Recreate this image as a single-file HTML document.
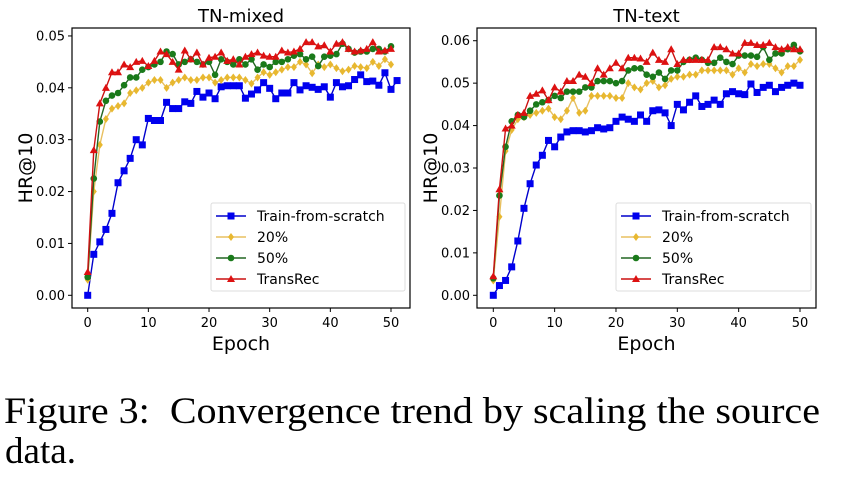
<!DOCTYPE html>
<html><head><meta charset="utf-8"><style>
html,body{margin:0;padding:0;background:#fff;width:844px;height:502px;overflow:hidden}
svg{display:block}
</style></head><body>
<svg id="fig" width="844" height="502" viewBox="0 0 844 502" xmlns="http://www.w3.org/2000/svg" font-family="'DejaVu Sans','Liberation Sans',sans-serif">
<text x="4" y="423" font-family="'Liberation Serif',serif" font-size="37" textLength="816" lengthAdjust="spacingAndGlyphs" xml:space="preserve">Figure 3:  Convergence trend by scaling the source</text>
<text x="5" y="463" font-family="'Liberation Serif',serif" font-size="37" textLength="71" lengthAdjust="spacingAndGlyphs">data.</text>
</svg>
<script>
const epochsLeft = [0,1,2,3,4,5,6,7,8,9,10,11,12,13,14,15,16,17,18,19,20,21,22,23,24,25,26,27,28,29,30,31,32,33,34,35,36,37,38,39,40,41,42,43,44,45,46,47,48,49,50,51];
const mixedScratch = [0,.0079,.0103,.0127,.0158,.0217,.024,.0264,.030,.029,.0341,.0337,.0337,.0372,.036,.036,.0373,.037,.0393,.0382,.039,.0379,.0402,.0404,.0404,.0404,.038,.0388,.0396,.041,.0399,.0379,.039,.039,.041,.0396,.0404,.0401,.0397,.0402,.0382,.041,.0402,.0404,.0416,.0425,.0412,.0413,.0405,.0429,.0397,.0414];
const mixed20 = [.003,.02,.029,.034,.036,.0365,.037,.039,.0395,.040,.041,.0415,.0415,.040,.041,.0415,.042,.0415,.0415,.042,.042,.041,.0415,.042,.042,.042,.0415,.0408,.042,.043,.0425,.043,.0435,.044,.044,.045,.0445,.0428,.0445,.044,.0445,.0438,.0432,.0435,.0442,.044,.0438,.045,.0442,.0455,.0445];
const mixed50 = [.0035,.0225,.0335,.0375,.0385,.039,.0405,.042,.042,.0435,.044,.0445,.045,.047,.0465,.0445,.045,.0455,.045,.0445,.045,.0425,.0455,.045,.0445,.0455,.0445,.0455,.0435,.0445,.044,.045,.045,.0455,.0462,.0465,.0455,.046,.0442,.046,.0462,.0465,.0485,.0475,.0468,.047,.047,.0475,.0475,.047,.048];
const mixedTrans = [.0045,.028,.037,.040,.043,.043,.0445,.044,.045,.0452,.0442,.0452,.047,.0465,.045,.0435,.0472,.0455,.0468,.0445,.0458,.046,.0468,.0452,.0455,.0445,.046,.0465,.0468,.0462,.046,.046,.0472,.0468,.047,.0475,.0488,.0488,.048,.0482,.047,.0485,.0488,.0475,.047,.0472,.0475,.0488,.047,.0472,.0475];
const textScratch = [0,.0023,.0035,.0067,.0128,.0205,.0263,.0307,.033,.0365,.035,.0373,.0385,.0388,.0388,.0385,.0388,.0395,.0392,.0395,.041,.042,.0415,.041,.0425,.041,.0435,.0437,.043,.040,.045,.0437,.0455,.047,.0445,.045,.046,.045,.0475,.048,.0475,.0473,.0498,.0478,.049,.0495,.048,.049,.0495,.050,.0495];
const text20 = [.0035,.0185,.034,.039,.0415,.042,.0425,.043,.0435,.044,.042,.0415,.0435,.0465,.043,.0435,.047,.047,.047,.047,.0465,.0465,.050,.049,.0485,.050,.0505,.049,.0495,.051,.0515,.0515,.052,.052,.053,.053,.053,.053,.053,.052,.0535,.0525,.0545,.054,.0545,.0545,.0535,.0525,.054,.054,.0555];
const text50 = [.004,.0235,.035,.041,.0425,.042,.0435,.045,.0455,.046,.047,.0465,.048,.048,.048,.049,.049,.0505,.0505,.0505,.050,.0505,.053,.0535,.0535,.052,.0515,.0525,.051,.053,.053,.055,.0555,.056,.0555,.0548,.0548,.056,.055,.0545,.0565,.0565,.0565,.0562,.0585,.0555,.057,.057,.058,.059,.0575];
const textTrans = [.0045,.025,.0393,.040,.0425,.043,.047,.0475,.0483,.046,.049,.048,.0505,.0505,.052,.0515,.050,.0535,.052,.0535,.0548,.0535,.056,.056,.0558,.055,.0572,.0555,.055,.058,.0545,.0555,.0555,.0555,.0555,.0555,.0585,.0585,.058,.057,.057,.0595,.0595,.059,.059,.0595,.0585,.058,.0585,.058,.058];
const xTicks = [0,10,20,30,40,50];
const yTicksLeft = [0,0.01,0.02,0.03,0.04,0.05];
const yTicksRight = [0,0.01,0.02,0.03,0.04,0.05,0.06];
const legendLabels = ["Train-from-scratch","20%","50%","TransRec"];

const NS="http://www.w3.org/2000/svg";
const svg=document.getElementById('fig');
function mk(tag,attrs,parent){const e=document.createElementNS(NS,tag);for(const k in attrs)e.setAttribute(k,attrs[k]);(parent||svg).appendChild(e);return e;}
const colors=['#0000ee','#e8b830','#1a7a1a','#dd1111'];
const lineCols=['#0000cc','#e8c060','#226622','#cc1111'];

function marker(g,type,x,y,c){
  if(type===0) return mk('rect',{x:x-3.5,y:y-3.5,width:7,height:7,fill:c},g);
  if(type===1) return mk('polygon',{points:`${x},${y-4} ${x+3},${y} ${x},${y+4} ${x-3},${y}`,fill:c},g);
  if(type===2) return mk('circle',{cx:x,cy:y,r:3.3,fill:c},g);
  return mk('polygon',{points:`${x},${y-4} ${x+4},${y+3} ${x-4},${y+3}`,fill:c},g);
}

function chart(cfg){
  const g=mk('g',{});
  
  
  const xs=v=>cfg.x0+(v-0)*(cfg.x50-cfg.x0)/50;
  const ys=v=>cfg.y0-v*cfg.perUnit;
  const fr=mk('rect',{x:cfg.L,y:cfg.T,width:cfg.R-cfg.L,height:cfg.B-cfg.T,fill:'none',stroke:'#000','stroke-width':1.2},g);
  
  
  const t=mk('text',{x:(cfg.L+cfg.R)/2,y:22,'text-anchor':'middle','font-size':18},g);t.textContent=cfg.title;
  
  
  xTicks.forEach(v=>{const x=xs(v);mk('line',{x1:x,x2:x,y1:cfg.B,y2:cfg.B+4,stroke:'#000'},g);
    const tx=mk('text',{x:x,y:cfg.B+19,'text-anchor':'middle','font-size':13},g);tx.textContent=v;
    
    });
  cfg.yTicks.forEach(v=>{const y=ys(v);mk('line',{x1:cfg.L-4,x2:cfg.L,y1:y,y2:y,stroke:'#000'},g);
    const ty=mk('text',{x:cfg.L-7,y:y+4.5,'text-anchor':'end','font-size':13},g);ty.textContent=v.toFixed(2);
    
    });
  const xl=mk('text',{x:(cfg.L+cfg.R)/2,y:350,'text-anchor':'middle','font-size':19},g);xl.textContent='Epoch';
  
  
  const yl=mk('text',{x:0,y:0,'text-anchor':'middle','font-size':19,transform:`translate(${cfg.L-40},${(cfg.T+cfg.B)/2}) rotate(-90)`},g);yl.textContent='HR@10';
  
  
  cfg.series.forEach((s,i)=>{
    const sg=mk('g',{},g);
    
    
    const pts=s.map((v,k)=>xs(k)+','+ys(v)).join(' ');
    mk('polyline',{points:pts,fill:'none',stroke:lineCols[i],'stroke-width':1.4},sg);
    s.forEach((v,k)=>marker(sg,i,xs(k),ys(v),colors[i]));
  });
  const lg=mk('g',{},g);
  
  
  mk('rect',{x:cfg.lx,y:203,width:cfg.R-cfg.lx-5,height:88,fill:'#fff',stroke:'#ddd',rx:2},lg);
  legendLabels.forEach((l,i)=>{const y=216+i*21;
    mk('line',{x1:cfg.lx+5,x2:cfg.lx+35,y1:y,y2:y,stroke:lineCols[i],'stroke-width':1.5},lg);
    marker(lg,i,cfg.lx+20,y,colors[i]);
    const lt=mk('text',{x:cfg.lx+46,y:y+5,'font-size':14},lg);lt.textContent=l;
    
    });
}
chart({name:'tn-mixed-chart',title:'TN-mixed',L:72,R:410,T:28,B:308,x0:87.7,x50:391,y0:295.3,perUnit:5187,yTicks:yTicksLeft,lx:211,
  series:[mixedScratch,mixed20,mixed50,mixedTrans]});
chart({name:'tn-text-chart',title:'TN-text',L:477,R:816,T:28,B:308,x0:493.3,x50:800,y0:295.3,perUnit:4243,yTicks:yTicksRight,lx:616,
  series:[textScratch,text20,text50,textTrans]});
</script>
</body></html>
